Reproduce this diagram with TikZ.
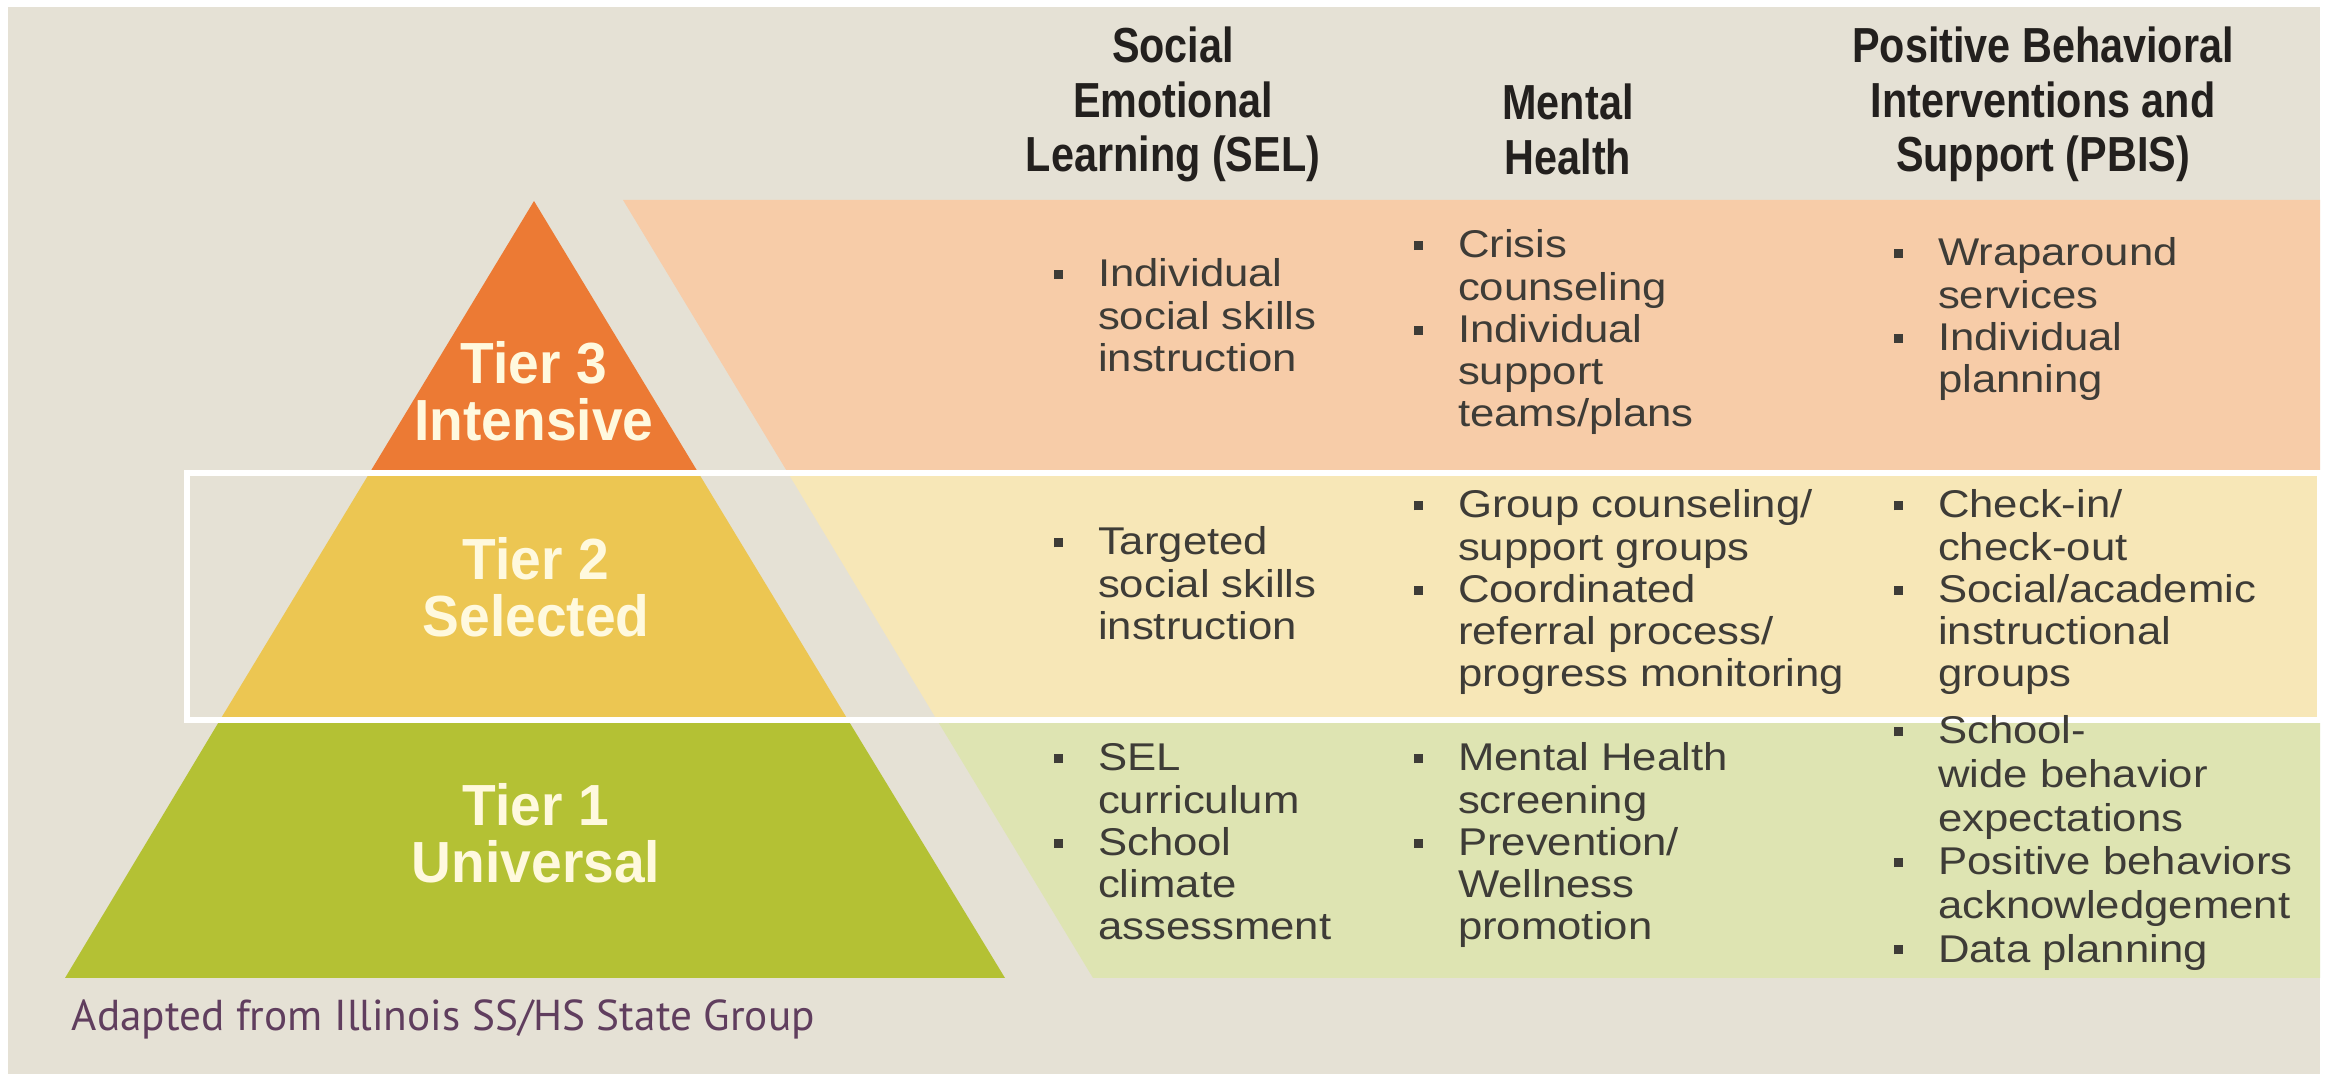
\documentclass[tikz,border=0pt]{standalone}
\usepackage{fontspec}
\setmainfont{Liberation Sans}
\newfontfamily\headfont{Liberation Sans}[FakeStretch=0.84]
\newfontfamily\tierfont{Liberation Sans}[FakeStretch=0.95]
\newfontfamily\itemfont{Liberation Sans}[FakeStretch=1.13]
\newfontfamily\notefont{PT Sans}
\usepackage{tikz}

\definecolor{paper}{RGB}{229,225,213}
\definecolor{tierthree}{RGB}{236,122,52}
\definecolor{tiertwo}{RGB}{236,198,82}
\definecolor{tierone}{RGB}{180,193,52}
\definecolor{bandthree}{RGB}{247,204,168}
\definecolor{bandtwo}{RGB}{247,231,183}
\definecolor{bandone}{RGB}{222,228,178}
\definecolor{ink}{RGB}{35,32,30}
\definecolor{itemink}{RGB}{62,60,55}
\definecolor{tierink}{RGB}{255,249,222}
\definecolor{noteink}{RGB}{96,62,94}

\newcommand{\sqbullet}{\raisebox{2.2pt}{\rule{2.6pt}{2.6pt}}}
\newcommand{\cellrows}[1]{\begin{tabular}[t]{@{}l@{\hspace{10pt}}l@{}}#1\end{tabular}}
\newcommand{\stackrows}[1]{\begin{tabular}[t]{@{}c@{}}#1\end{tabular}}

\begin{document}
\begin{tikzpicture}[x=0.01cm, y=-0.01cm,
    head/.style={anchor=base, inner sep=0pt, text=ink,
      font=\headfont\bfseries\fontsize{14}{15.5}\selectfont},
    tier/.style={anchor=base, inner sep=0pt, text=tierink,
      font=\tierfont\bfseries\fontsize{16.5}{14}\selectfont},
    item/.style={anchor=base west, inner sep=0pt, text=itemink,
      font=\itemfont\fontsize{11}{12}\selectfont},
    note/.style={anchor=base west, inner sep=0pt, text=noteink,
      font=\notefont\fontsize{12.3}{14}\selectfont} ]
    \useasboundingbox (0,0) rectangle (2328,1074);

    % Paper
    \fill[white] (0,0) rectangle (2328,1074);
    \fill[paper] (8,7) rectangle (2320,1074);

    % Bands behind the columns
    \fill[bandthree] (623,200) -- (2320,200) -- (2320,473) -- (788,473) -- cycle;
    \fill[bandtwo] (788,473) -- (2320,473) -- (2320,720) -- (937,720) -- cycle;
    \fill[bandone] (937,720) -- (2320,720) -- (2320,978) -- (1093,978) -- cycle;

    % Pyramid
    \coordinate (apex) at (534,201);
    \coordinate (l3) at (369.5,473); \coordinate (r3) at (698.5,473);
    \coordinate (l2) at (220,720); \coordinate (r2) at (848,720);
    \coordinate (l1) at (65,978); \coordinate (r1) at (1005,978);
    \fill[tierthree] (apex) -- (r3) -- (l3) -- cycle;
    \fill[tiertwo] (l3) -- (r3) -- (r2) -- (l2) -- cycle;
    \fill[tierone] (l2) -- (r2) -- (r1) -- (l1) -- cycle;

    % White frame round tier 2
    \draw[white, line width=1.6pt] (187,473) rectangle (2320,720);

    % Tier labels
    \node[tier] (tier3) at (534,384) {\stackrows{Tier 3\\Intensive}};
    \node[tier] (tier2) at (536,580) {\stackrows{Tier 2\\Selected}};
    \node[tier] (tier1) at (536,826) {\stackrows{Tier 1\\Universal}};

    % Column heads
    \node[head] (hsel) at (1173,63) {\stackrows{Social\\Emotional\\Learning (SEL)}};
    \node[head] (hmh) at (1568,120) {\stackrows{Mental\\Health}};
    \node[head] (hpbis) at (2043,63)
    {\stackrows{Positive Behavioral\\Interventions and\\Support (PBIS)}};

    % Tier 3 row
    \node[item] (sel3) at (1053,287) {\cellrows{\sqbullet & Individual\\
      & social skills\\ & instruction}};
    \node[item] (mh3) at (1413,258) {\cellrows{\sqbullet & Crisis\\
      & counseling\\ \sqbullet & Individual\\ & support\\ & teams/plans}};
    \node[item] (pbis3) at (1893,266) {\cellrows{\sqbullet & Wraparound\\
      & services\\ \sqbullet & Individual\\ & planning}};

    % Tier 2 row
    \node[item] (sel2) at (1053,555) {\cellrows{\sqbullet & Targeted\\
      & social skills\\ & instruction}};
    \node[item] (mh2) at (1413,518) {\cellrows{\sqbullet & Group counseling/\\
      & support groups\\ \sqbullet & Coordinated\\ & referral process/\\
      & progress monitoring}};
    \node[item] (pbis2) at (1893,518) {\cellrows{\sqbullet & Check-in/\\
      & check-out\\ \sqbullet & Social/academic\\ & instructional\\ & groups}};

    % Tier 1 row
    \node[item] (sel1) at (1053,771) {\cellrows{\sqbullet & SEL\\
      & curriculum\\ \sqbullet & School\\ & climate\\ & assessment}};
    \node[item] (mh1) at (1413,771) {\cellrows{\sqbullet & Mental Health\\
      & screening\\ \sqbullet & Prevention/\\ & Wellness\\ & promotion}};
    \node[item, font=\itemfont\fontsize{11}{12.4}\selectfont] (pbis1) at (1893,744)
    {\cellrows{\sqbullet & School-\\ & wide behavior\\ & expectations\\
      \sqbullet & Positive behaviors\\ & acknowledgement\\ \sqbullet & Data planning}};

    % Source note
    \node[note] (source) at (71,1030) {Adapted from Illinois SS/HS State Group};
\end{tikzpicture}
\end{document}
